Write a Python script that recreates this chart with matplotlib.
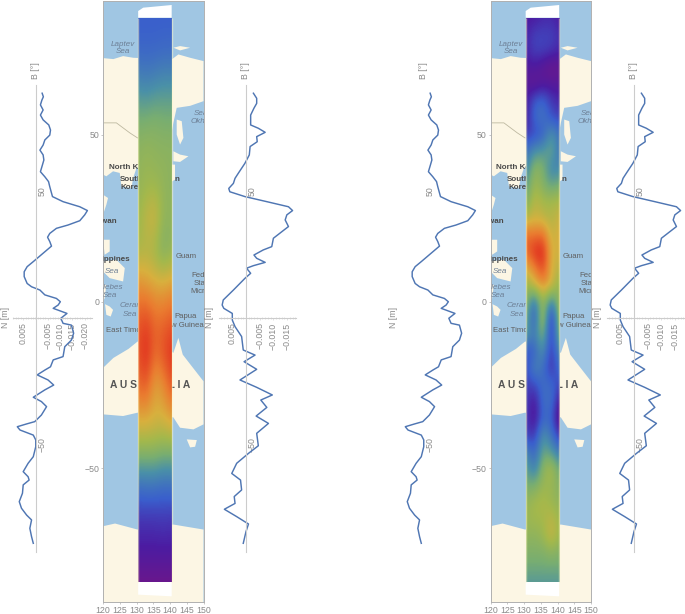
import numpy as np
import matplotlib
matplotlib.use("Agg")
import matplotlib.pyplot as plt
from matplotlib.colors import LinearSegmentedColormap
from matplotlib.patches import Polygon, Rectangle

plt.rcParams['font.family'] = ['Liberation Sans', 'DejaVu Sans']

W, H = 685, 614
GRAY = '#8a8a8a'
AXC = '#cccccc'
LINEC = '#4f76b3'
OCEAN = '#a0c6e3'
LAND = '#fcf6e4'

# Profiles: latitude [deg], value in units of 1e-3
lat_a = [88.5,87.1,85.8,83.9,81.9,79.9,78.0,76.0,74.0,72.0,70.1,68.1,66.1,64.2,62.2,60.2,57.6,55.6,53.7,51.7,
         47.8,45.8,43.8,42.3,40.6,38.3,36.6,35.3,33.3,31.8,30.1,28.3,25.5,22.2,20.2,18.2,16.3,13.6,12.3,11.0,
         9.1,7.7,6.4,5.1,3.8,1.8,-0.1,-2.1,-2.8,-6.0,-8.7,-11.3,-15.2,-16.5,-19.2,-20.5,-22.4,-24.4,-26.4,-28.3,
         -31.2,-32.9,-34.9,-38.2,-40.8,-41.7,-42.8,-44.1,-46.1,-48.0,-50.7,-54.6,-57.2,-60.5,-62.5,-63.8,-65.7,
         -69.0,-72.3,-74.9,-77.6,-79.5,-82.8,-86.1,-88.7]
val_a = [-2.7,-3.2,-2.6,-2.0,-3.1,-2.0,-3.1,-5.4,-6.1,-5.8,-3.8,-3.1,-1.8,-3.1,-3.4,-2.8,-2.0,-3.8,-5.3,-5.8,
         -6.9,-11.2,-18.0,-21.1,-20.0,-18.0,-13.2,-8.5,-5.8,-4.9,-5.8,-6.5,-3.1,0.9,3.4,4.6,4.6,3.4,1.6,-1.8,
         -3.8,-8.5,-10.1,-9.2,-7.2,-12.8,-10.3,-11.2,-14.6,-15.5,-14.6,-11.9,-11.2,-7.2,-6.1,-3.8,-0.7,-5.1,-7.4,-3.8,
         0.9,-2.4,-4.5,-2.4,0.3,3.6,7.4,6.3,0.9,-0.1,-0.1,0.9,3.0,5.0,3.0,2.6,5.0,
         5.3,6.6,5.7,3.6,1.6,2.3,1.6,0.9]
lat_b = [88.5,86.5,84.5,82.6,79.9,76.0,74.7,73.1,71.4,69.4,67.5,64.2,60.9,57.0,55.0,53.0,51.0,49.7,47.8,45.8,
         43.8,42.3,40.6,38.6,36.0,34.0,31.4,28.1,26.8,24.8,23.5,21.9,20.6,19.6,17.6,15.6,11.0,7.1,5.1,3.8,
         1.8,-0.8,-3.4,-7.3,-12.6,-14.6,-17.2,-20.2,-24.4,-27.3,-30.3,-32.3,-35.2,-38.6,-41.5,-45.4,-50.3,-53.3,
         -57.2,-61.2,-63.8,-67.7,-70.3,-73.0,-75.3,-78.2,-81.1,-84.1,-88.7]
val_b = [-2.7,-3.9,-3.9,-2.9,-1.7,-1.7,-4.5,-7.0,-3.9,-4.1,-1.5,-1.2,0.4,2.8,4.0,4.6,6.3,5.9,0.4,-7.6,
         -15.5,-17.0,-14.9,-14.3,-15.5,-13.1,-10.0,-9.4,-6.3,-2.9,-3.9,-7.0,-2.7,-0.2,-1.7,0.4,4.6,8.3,8.7,8.1,
         5.0,5.0,4.0,1.6,1.0,-3.3,0.7,-3.9,2.2,-3.9,-9.6,-5.4,-7.6,-3.7,-8.2,-3.9,-4.5,-0.9,
         3.4,5.2,2.0,1.6,4.3,4.0,7.9,3.4,-0.9,0.0,1.0]

# Heat strips: rows north to south on a regular latitude grid, five columns west to east
strip_a = [
 [.25,.25,.25,.25,.25],[.27,.27,.27,.28,.28],[.38,.36,.38,.40,.40],[.50,.50,.52,.50,.50],
 [.55,.57,.55,.55,.55],[.56,.58,.58,.56,.54],[.58,.66,.70,.56,.56],[.60,.62,.58,.50,.55],
 [.78,.75,.72,.72,.75],[.88,.92,.85,.85,.88],[.90,1.0,.86,.92,.98],[.85,.90,.72,.78,.90],
 [.72,.72,.70,.70,.75],[.55,.55,.55,.52,.52],[.30,.31,.31,.29,.30],[.17,.17,.17,.18,.17],
 [.13,.13,.13,.13,.13],[.03,.03,.03,.03,.03]]
strip_b = [
 [.12,.12,.15,.15,.12],[.14,.20,.20,.20,.16],[.15,.20,.20,.18,.15],[.10,.12,.08,.04,.06],
 [.10,.06,.10,.10,.10],[.12,.25,.28,.18,.15],[.12,.28,.32,.22,.20],[.18,.20,.25,.42,.30],
 [.30,.40,.42,.48,.30],[.35,.55,.52,.35,.38],[.42,.60,.52,.45,.50],[.50,.65,.60,.60,.62],
 [.62,.68,.65,.62,.68],[.85,.82,.85,.65,.72],[.85,.98,1.0,.68,.70],[.70,.80,.95,.68,.65],
 [.58,.68,.78,.70,.55],[.55,.30,.60,.35,.60],[.50,.20,.68,.08,.62],[.45,.32,.55,.12,.55],
 [.22,.25,.42,.14,.40],[.20,.38,.30,.15,.30],[.20,.20,.30,.28,.20],[.20,.10,.30,.30,.10],
 [.20,.08,.28,.25,.04],[.20,.16,.42,.30,.16],[.38,.25,.48,.42,.32],[.46,.32,.55,.62,.46],
 [.50,.50,.58,.58,.52],[.56,.60,.62,.58,.55],[.58,.60,.60,.65,.58],[.56,.55,.58,.68,.58],
 [.52,.52,.52,.55,.52],[.48,.48,.48,.48,.48],[.42,.42,.42,.42,.42]]

# Coastlines (lon, lat)
asia = [(120,72.9),(123.1,72.6),(126,73.5),(129,73),(140.5,72.5),(142.5,74),(146,73),(150,72),(150,60),(146,58.6),
        (142,58),(141,53.5),(140,48),(135,42),(130,40),(129,37),(128.5,34),(125.5,34.5),(125,38.5),(123,39),(121,37.5),(120,38)]
sakhalin = [(142,54.5),(143.5,54),(144,49),(143,47),(142,50)]
hokkaido = [(141,45),(143,44),(145.5,43.5),(143,41.8),(141,42)]
honshu = [(139,41),(141.5,41),(141.5,36.5),(139,35)]
china_south = [(120,32),(121.5,31),(121,29),(120,26)]
luzon = [(120,18.5),(122,18.5),(122,15),(120.5,14)]
philippines_s = [(120,12),(124,12.5),(126.5,10),(126,6),(122,7),(120,9)]
borneo = [(120,5),(121,5),(120.5,1),(120,0)]
sulawesi = [(120.6,-0.8),(122,-1.5),(123,-2.5),(122.3,-4.5),(121,-4)]
australia = [(120,-19.9),(123.1,-16.9),(127.6,-14.2),(130.3,-12),(136,-12),(141,-15.4),(142.5,-10.9),(143.8,-15.9),
             (146.5,-19.4),(150,-23.9),(150,-36.8),(147,-38.3),(143,-37.8),(141,-34.7),(130.3,-33.3),(126,-34.3),(120,-33.8)]
tasmania = [(145,-41.3),(148,-41.5),(147.5,-43.5),(146,-43.7)]
antarctica = [(120,-67.3),(123.6,-66.5),(130.3,-68.3),(141,-66.8),(150,-68.3),(150,-90),(120,-90)]
arctic_isles = [(141,76),(143,76.5),(146,76),(143,75.2)]
lands = [asia, sakhalin, hokkaido, honshu, china_south, luzon, philippines_s, borneo, sulawesi,
         australia, tasmania, antarctica, arctic_isles]

lon_ticks = [120,125,130,135,140,145,150]
lat_ticks = [50,0,-50]
val_ticks_left = [0.005,-0.005,-0.010,-0.015,-0.020]
val_ticks_right = [0.005,-0.005,-0.010,-0.015]

cmap = LinearSegmentedColormap.from_list('rb', [
    (0.00,'#7a1580'),(0.13,'#4c1ca2'),(0.25,'#3a5fcd'),(0.40,'#4a90a8'),(0.50,'#79ae70'),
    (0.60,'#a3b84c'),(0.70,'#d8b03e'),(0.82,'#ea7c30'),(1.00,'#e0201c')])

fig = plt.figure(figsize=(W/100, H/100), dpi=100, facecolor='white')

def box(x0, y0, x1, y1):
    return fig.add_axes([x0/W, 1-y1/H, (x1-x0)/W, (y1-y0)/H])

def map_panel(x0, values):
    ax = box(x0, 1, x0+100.5, 602)
    ax.set_facecolor(OCEAN)
    for p in lands:
        ax.add_patch(Polygon(p, closed=True, fc=LAND, ec='none', zorder=1))
    ax.plot([120,124,128,130.3],[53.5,53.5,50.5,49], color='#bdb8a0', lw=0.6, zorder=1.5)
    ax.add_patch(Polygon([(130.5,85),(130.5,87),(132,88),(140.5,88.8),(140.5,85)], fc='white', ec='none', zorder=4))
    ax.add_patch(Polygon([(130.5,-84),(130.5,-87.8),(140.5,-88.3),(140.5,-84)], fc='white', ec='none', zorder=4))
    v = np.array(values)
    nr, nc = v.shape
    dlat = 170/(nr-1); dlon = 10/(nc-1)
    im = ax.imshow(v, cmap=cmap, vmin=0, vmax=1, interpolation='bicubic', aspect='auto',
                   extent=[130.5-dlon/2, 140.5+dlon/2, -85-dlat/2, 85+dlat/2], zorder=5)
    im.set_clip_path(Rectangle((130.5,-84), 10, 169, transform=ax.transData))
    for lon in (130.5, 140.5):
        ax.plot([lon,lon],[-84,85], color='#fff7c8', alpha=0.5, lw=1.0, zorder=6, solid_capstyle='butt')
    ax.set_xlim(120,150); ax.set_ylim(-90,90)
    for s in ax.spines.values():
        s.set_color('#b0b0b0'); s.set_linewidth(0.7)
    ax.set_xticks(lon_ticks); ax.set_yticks(lat_ticks)
    ax.set_yticklabels(['50','0','\u221250'])
    ax.tick_params(colors=GRAY, labelsize=6.3, length=1.2, width=0.5, pad=1.5, color='#b0b0b0')
    kw = dict(zorder=3, clip_on=True)
    seac = dict(color='#6d7f95', style='italic', fontsize=5.8, va='center', **kw)
    sea = dict(ha='center', **seac)
    city = dict(color='#5f5f5f', fontsize=5.6, va='center', **kw)
    bold = dict(color='#4a4a4a', fontsize=5.8, fontweight='bold', va='center', **kw)
    ax.text(126,77.1,'Laptev',**sea); ax.text(126,74.8,'Sea',**sea)
    ax.text(147,56.2,'Sea',ha='left',**seac)
    ax.text(146,53.8,'Okhotsk',ha='left',**seac)
    ax.text(121.7,40.2,'North Korea',ha='left',**bold)
    ax.text(125,36.5,'South',ha='left',**bold); ax.text(125.3,34,'Korea',ha='left',**bold)
    ax.text(141.3,36.4,'n',ha='left',**bold)
    ax.text(124.3,23.9,'Taiwan',ha='right',**bold)
    ax.text(128.1,12.6,'Philippines',ha='right',**bold)
    ax.text(122.8,9,'Sea',**sea)
    ax.text(126.1,4.2,'Celebes',ha='right',**seac)
    ax.text(122.1,1.7,'Sea',**sea)
    ax.text(124.8,-1.3,'Ceram',ha='left',**seac)
    ax.text(127.9,-3.8,'Sea',**sea)
    ax.text(144.8,13.5,'Guam',ha='center',**city)
    ax.text(146.5,7.7,'Federated',ha='left',**city)
    ax.text(147,5.4,'States',ha='left',**city)
    ax.text(146.2,3.1,'Micronesia',ha='left',**city)
    ax.text(120.8,-8.7,'East Timor',ha='left',**city)
    ax.text(141.4,-4.6,'Papua',ha='left',**city)
    ax.text(150,-7.1,'New Guinea',ha='right',**city)
    ax.text(134.1,-24.9,'A U S T R A L I A',ha='center',color='#555555',fontsize=7.4,fontweight='bold',va='center',**kw)
    return ax

def profile(axis_x, scale, x0, x1, lat, val, xticks, show_axes=True):
    ax = box(x0, 85, x1, 552)
    ax.patch.set_alpha(0)
    ax.set_zorder(10)
    ax.plot(np.array(val)*1e-3, lat, color=LINEC, lw=1.05, solid_joinstyle='round')
    limits = ((axis_x-x0)/scale, -(x1-axis_x)/scale)
    ax.set_ylim((318-552)/2.54, (318-85)/2.54)
    for k in ['top','right']:
        ax.spines[k].set_visible(False)
    ax.spines['left'].set_position(('data',0)); ax.spines['bottom'].set_position(('data',0))
    for k in ['left','bottom']:
        ax.spines[k].set_color(AXC); ax.spines[k].set_linewidth(0.8)
        ax.spines[k].set_visible(show_axes)
    ax.set_yticks(lat_ticks[::2]); ax.set_yticklabels(['50','\u221250'])
    ax.tick_params(axis='y', direction='out', left=False, right=False, labelleft=True, labelsize=6.3,
                   labelcolor=GRAY, rotation=90, pad=-8)
    for t in ax.get_yticklabels():
        t.set_va('center'); t.set_ha('center')
    ax.set_xticks(xticks if show_axes else [])
    ax.set_xticklabels([f'{t:.3f}'.replace('-','\u2212') for t in xticks] if show_axes else [])
    ax.tick_params(axis='x', length=1.2, width=0.4, color=AXC, labelsize=6.3, labelcolor=GRAY, rotation=90, pad=2)
    if show_axes:
        ax.set_xticks(np.arange(-0.023, 0.0095, 0.001), minor=True)
        ax.tick_params(axis='x', which='minor', length=0.8, width=0.4, color=AXC, direction='inout')
    ax.set_xlim(*limits)
    return ax

def label(x, y, s, rot=90):
    fig.text(x/W, 1-y/H, s, rotation=rot, ha='center', va='center', color=GRAY, fontsize=6.3)

map_panel(103, strip_a)
map_panel(490.5, strip_b)

profile(35.5, 2460, 13, 92, lat_a, val_a, val_ticks_left)
profile(246, 2740, 219, 296, lat_b, val_b, val_ticks_right)
profile(423.5, 2460, 401, 480, lat_a, val_a, val_ticks_left, show_axes=False)
profile(634, 2740, 607, 684, lat_b, val_b, val_ticks_right)

for bx, nx in [(36,5),(246,209),(423.5,393),(634,597)]:
    label(bx, 71, 'B [\u00b0]')
    label(nx, 318, 'N [m]')

fig.savefig('out.png', dpi=100)
